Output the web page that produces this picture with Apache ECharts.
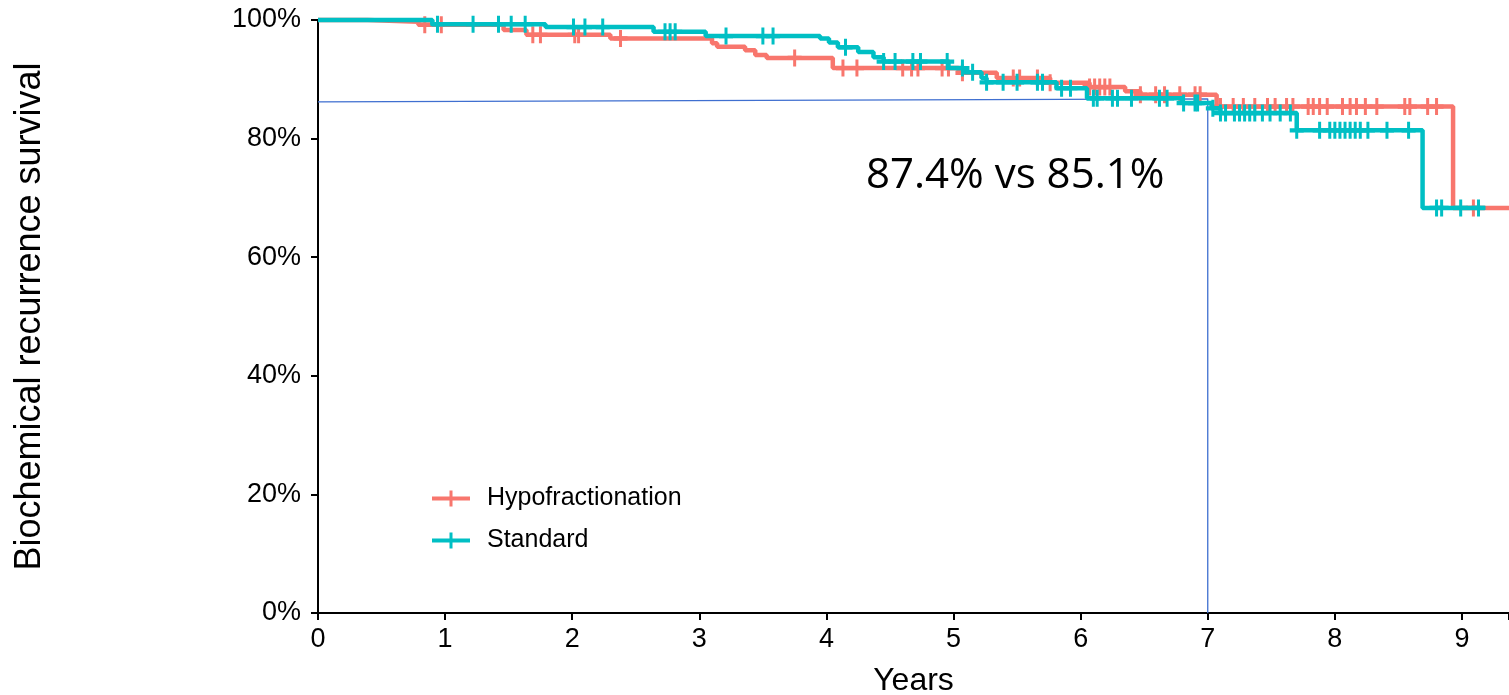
<!DOCTYPE html>
<html>
<head>
<meta charset="utf-8">
<script src="https://cdn.jsdelivr.net/npm/echarts@6/dist/echarts.min.js"></script>
<style>
html,body{margin:0;padding:0;background:#fff;}
#chart{width:1509px;height:695px;}
</style>
</head>
<body>
<div id="chart"></div>
<script>
// ---- data ----
const seriesNames = ['Hypofractionation', 'Standard'];
const yTicks = [0, 20, 40, 60, 80, 100];
const xTicks = [0, 1, 2, 3, 4, 5, 6, 7, 8, 9];

const hypoTimes = [0, 0.39, 0.79, 1.46, 1.64, 2.30, 3.10, 3.14, 3.36, 3.44, 3.53, 4.05, 5.04, 5.34, 5.76, 6.07, 6.35, 6.47, 7.07, 8.93, 9.37];
const hypoSurv  = [100, 99.7, 99.2, 98.3, 97.5, 96.9, 96.1, 95.5, 94.9, 94.1, 93.6, 91.9, 91.1, 90.2, 89.4, 88.7, 88.0, 87.4, 85.4, 68.3, 68.3];

const stdTimes = [0, 0.90, 1.79, 2.64, 3.05, 3.95, 4.02, 4.09, 4.25, 4.37, 4.45, 4.96, 5.08, 5.22, 5.26, 5.81, 6.05, 6.80, 7.03, 7.10, 7.70, 8.69, 9.18];
const stdSurv  = [100, 99.3, 98.8, 98.0, 97.3, 96.9, 96.2, 95.4, 94.6, 93.7, 93.0, 91.9, 91.2, 90.2, 89.5, 88.5, 86.8, 86.0, 85.1, 84.3, 81.4, 68.3, 68.3];

const hypoCensor = [0.84, 0.97, 1.69, 1.75, 2.02, 2.05, 2.38, 3.75, 4.13, 4.24, 4.60, 4.67, 4.72, 4.91, 4.96, 5.07, 5.47, 5.52, 5.66, 5.76,
  6.07, 6.11, 6.15, 6.19, 6.23, 6.47, 6.59, 6.66, 6.78, 6.90, 6.94, 7.10, 7.20, 7.28, 7.37, 7.47, 7.53, 7.62, 7.67, 7.79, 7.83, 7.88, 7.94,
  8.06, 8.12, 8.17, 8.24, 8.33, 8.55, 8.59, 8.73, 8.80, 9.09];
const stdCensor = [0.94, 1.22, 1.42, 1.52, 1.63, 2.01, 2.10, 2.24, 2.73, 2.77, 2.81, 3.21, 3.50, 3.58, 4.15, 4.45, 4.54, 4.68, 4.74, 4.95,
  5.07, 5.15, 5.26, 5.39, 5.50, 5.66, 5.70, 5.85, 5.92, 6.10, 6.13, 6.25, 6.29, 6.40, 6.62, 6.68, 6.81, 6.90, 6.92, 7.04, 7.10, 7.14,
  7.21, 7.25, 7.29, 7.33, 7.37, 7.43, 7.49, 7.57, 7.65, 7.70, 7.88, 7.96, 8.00, 8.04, 8.08, 8.12, 8.16, 8.20, 8.26, 8.41, 8.58, 8.80,
  8.84, 8.99, 9.13];

const annoX = [0, 7, 7];
const annoY = [86.2, 86.7, 0];
const annoText = '87.4% vs 85.1%';

// ---- build ----
const RED = '#F8766D', TEAL = '#00BFC4';
const plusPath = 'path://M5.5,0 L8.5,0 L8.5,6 L14,6 L14,10 L8.5,10 L8.5,16 L5.5,16 L5.5,10 L0,10 L0,6 L5.5,6 Z';
const legendPath = 'path://M0,6 L17.5,6 L17.5,0 L20.5,0 L20.5,6 L38,6 L38,10 L20.5,10 L20.5,16 L17.5,16 L17.5,10 L0,10 Z';

function zip(xs, ys) { return xs.map((x, i) => [x, ys[i]]); }
function survAt(times, vals, t) {
  let v = vals[0];
  for (let i = 0; i < times.length; i++) { if (times[i] <= t) v = vals[i]; }
  return v;
}
const hypoCens = hypoCensor.map(t => [t, survAt(hypoTimes, hypoSurv, t)]);
const stdCens = stdCensor.map(t => [t, survAt(stdTimes, stdSurv, t)]);

const chart = echarts.init(document.getElementById('chart'), null, {renderer: 'canvas'});
const axisFont = 'Liberation Sans, Arial, sans-serif';
chart.setOption({
  animation: false,
  backgroundColor: '#ffffff',
  grid: {left: 318, right: 0, top: 20, bottom: 82, containLabel: false, outerBoundsMode: 'none'},
  legend: {
    orient: 'vertical',
    left: 427, top: 481,
    itemWidth: 38, itemHeight: 16, itemGap: 17,
    data: [
      {name: seriesNames[0], icon: legendPath},
      {name: seriesNames[1], icon: legendPath}
    ],
    textStyle: {fontFamily: axisFont, fontSize: 25, color: '#000', padding: [0, 0, 0, 12]}
  },
  xAxis: {
    type: 'value', min: 0, max: 9.37, interval: 1,
    name: 'Years', nameLocation: 'middle', nameGap: 52,
    nameTextStyle: {fontFamily: axisFont, fontSize: 32, color: '#000'},
    axisLine: {lineStyle: {color: '#000', width: 2}},
    axisTick: {length: 7, lineStyle: {color: '#000', width: 2}},
    axisLabel: {fontFamily: axisFont, fontSize: 27, color: '#000', margin: 13,
      formatter: v => xTicks.indexOf(v) >= 0 ? String(v) : ''},
    splitLine: {show: false}
  },
  yAxis: {
    type: 'value', min: 0, max: 100, interval: 20,
    name: 'Biochemical recurrence survival', nameLocation: 'middle', nameGap: 270,
    nameTextStyle: {fontFamily: axisFont, fontSize: 36, color: '#000'},
    axisLine: {lineStyle: {color: '#000', width: 2}},
    axisTick: {length: 7, lineStyle: {color: '#000', width: 2}},
    axisLabel: {fontFamily: axisFont, fontSize: 27, color: '#000', margin: 17,
      formatter: v => yTicks.indexOf(v) >= 0 ? v + '%' : ''},
    splitLine: {show: false}
  },
  graphic: [{
    type: 'text', left: 866, top: 155,
    style: {text: annoText, font: '42px "Open Sans", sans-serif', fill: '#000'}
  }],
  series: [
    {
      name: 'annotation', type: 'line', data: zip(annoX, annoY), showSymbol: false, silent: true,
      lineStyle: {color: '#3F6FD0', width: 1.3}, clip: false, z: 1
    },
    {
      name: seriesNames[0], type: 'line', step: 'end', data: zip(hypoTimes, hypoSurv), showSymbol: false,
      lineStyle: {color: RED, width: 4.5}, itemStyle: {color: RED}, clip: false, z: 3
    },
    {
      name: seriesNames[1], type: 'line', step: 'end', data: zip(stdTimes, stdSurv), showSymbol: false,
      lineStyle: {color: TEAL, width: 4.5}, itemStyle: {color: TEAL}, clip: false, z: 4
    },
    {
      name: seriesNames[0], type: 'scatter', data: hypoCens, symbol: plusPath, symbolSize: [14, 17],
      itemStyle: {color: RED, opacity: 1}, z: 3, silent: true
    },
    {
      name: seriesNames[1], type: 'scatter', data: stdCens, symbol: plusPath, symbolSize: [14, 17],
      itemStyle: {color: TEAL, opacity: 1}, z: 4, silent: true
    }
  ]
});
</script>
</body>
</html>
